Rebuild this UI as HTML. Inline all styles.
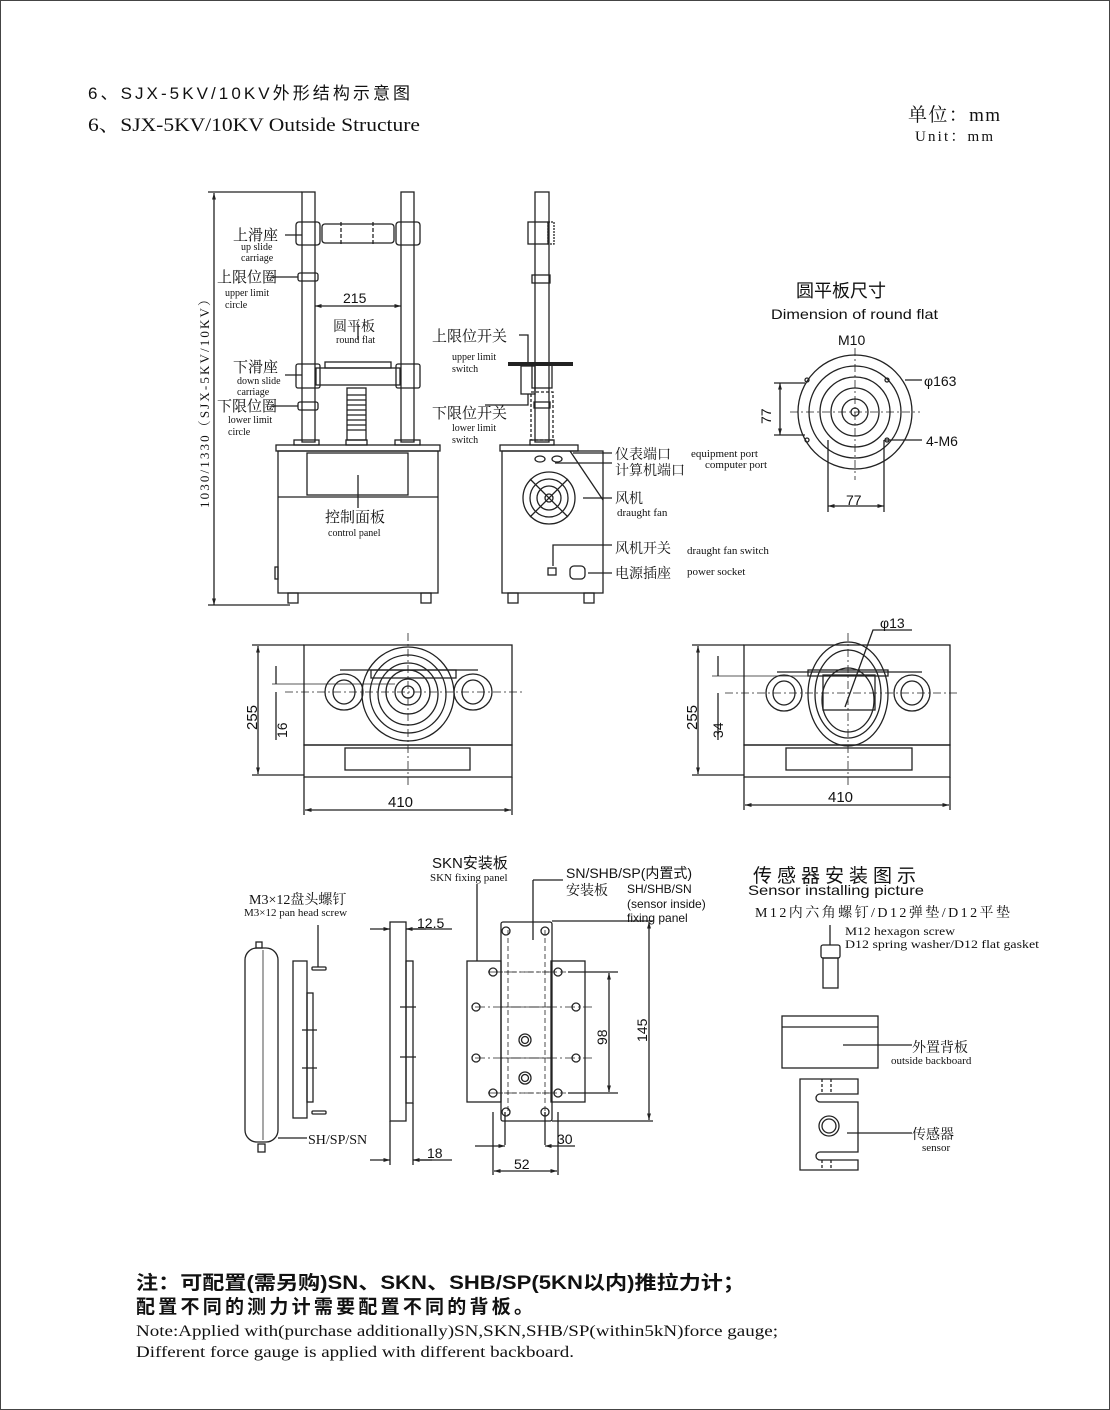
<!DOCTYPE html>
<html><head><meta charset="utf-8"><style>
html,body{margin:0;padding:0;background:#fff}
svg{display:block}
.s{font-family:"Liberation Serif","Noto Serif CJK SC","Noto Sans CJK SC",serif;fill:#111}
.a{font-family:"Liberation Sans","Noto Sans CJK SC",sans-serif;fill:#111}
</style></head><body>
<svg width="1110" height="1410" viewBox="0 0 1110 1410" xmlns="http://www.w3.org/2000/svg">
<defs><marker id="ar" viewBox="0 0 10 10" refX="10" refY="5" markerWidth="7" markerHeight="5" orient="auto-start-reverse"><path d="M0,2 L10,5 L0,8 z" fill="#222"/></marker></defs>
<rect x="0.5" y="0.5" width="1109" height="1409" fill="none" stroke="#444" stroke-width="1"/>
<text x="88" y="99" class="a" font-size="17" textLength="322" lengthAdjust="spacing">6、SJX-5KV/10KV外形结构示意图</text>
<text x="88" y="131" class="s" font-size="19" textLength="332" lengthAdjust="spacingAndGlyphs">6、SJX-5KV/10KV Outside Structure</text>
<text x="908" y="121" class="s" font-size="19" textLength="92" lengthAdjust="spacing">单位：mm</text>
<text x="915" y="141" class="s" font-size="15" textLength="78" lengthAdjust="spacing">Unit：mm</text>

<g fill="none" stroke="#222" stroke-width="1.3">
<line x1="214" y1="193" x2="214" y2="605" marker-start="url(#ar)" marker-end="url(#ar)"/>
<line x1="208" y1="192" x2="302" y2="192"/><line x1="208" y1="605" x2="290" y2="605"/>
<rect x="302" y="192" width="13" height="250"/><rect x="401" y="192" width="13" height="250"/>
<rect x="296" y="222" width="24" height="23" rx="3"/><rect x="396" y="222" width="24" height="23" rx="3"/>
<rect x="322" y="224" width="72" height="19" rx="3"/>
<line x1="341" y1="222" x2="341" y2="245" stroke-dasharray="4 2"/><line x1="373" y1="222" x2="373" y2="245" stroke-dasharray="4 2"/>
<rect x="298" y="273" width="20" height="8" rx="2"/><rect x="298" y="402" width="20" height="8" rx="2"/>
<line x1="315" y1="306" x2="401" y2="306" marker-start="url(#ar)" marker-end="url(#ar)"/>
<rect x="296" y="364" width="24" height="24" rx="2"/><rect x="396" y="364" width="24" height="24" rx="2"/>
<rect x="316" y="368" width="84" height="17"/><rect x="325" y="362" width="66" height="6"/>
<rect x="347" y="388" width="19" height="52"/>
<path d="M347 395h19M347 400h19M347 405h19M347 410h19M347 415h19M347 420h19M347 425h19M347 430h19"/>
<rect x="294" y="440" width="25" height="5"/><rect x="395" y="440" width="25" height="5"/><rect x="346" y="440" width="21" height="5"/>
<rect x="276" y="445" width="164" height="6"/>
<rect x="278" y="451" width="160" height="142"/>
<rect x="307" y="453" width="101" height="42"/>
<line x1="278" y1="497" x2="438" y2="497"/>
<rect x="275" y="567" width="3" height="12"/>
<rect x="288" y="593" width="10" height="10"/><rect x="421" y="593" width="10" height="10"/>
<path d="M285 235H302M272 277H298M285 375H302M272 406H298M358 324V340M358 475V508"/>

<rect x="535" y="192" width="14" height="250"/>
<rect x="528" y="222" width="20" height="22"/><rect x="548" y="222" width="6" height="22" stroke-dasharray="2 1"/>
<rect x="532" y="275" width="18" height="8"/>
<line x1="508" y1="364" x2="573" y2="364" stroke-width="4"/>
<rect x="521" y="366" width="14" height="28"/><rect x="532" y="364" width="20" height="24"/>
<rect x="531" y="392" width="22" height="48" stroke-dasharray="3 2"/>
<rect x="534" y="402" width="16" height="6"/>
<rect x="530" y="440" width="24" height="5"/>
<rect x="500" y="445" width="78" height="6"/>
<rect x="502" y="451" width="101" height="142"/>
<path d="M570 451L603 500"/>
<ellipse cx="540" cy="459" rx="5" ry="3"/><ellipse cx="557" cy="459" rx="5" ry="3"/>
<circle cx="549" cy="498" r="26"/><circle cx="549" cy="498" r="19"/><circle cx="549" cy="498" r="12"/><circle cx="549" cy="498" r="4"/>
<path d="M530 479L568 517M568 479L530 517"/>
<rect x="548" y="568" width="8" height="7"/><rect x="570" y="566" width="15" height="13" rx="4"/>
<rect x="508" y="593" width="10" height="10"/><rect x="584" y="593" width="10" height="10"/>
<path d="M519 335H528V364M485 405H528V394M573 453H612M555 463H612M583 498H612M553 566V545H612M588 573H612"/>

<circle cx="855" cy="412" r="57"/><circle cx="855" cy="412" r="46"/><circle cx="855" cy="412" r="35"/><circle cx="855" cy="412" r="24"/><circle cx="855" cy="412" r="13"/><circle cx="855" cy="412" r="4"/>
<line x1="855" y1="348" x2="855" y2="480" stroke-dasharray="8 3 2 3" stroke-width="0.8"/>
<line x1="790" y1="412" x2="920" y2="412" stroke-dasharray="8 3 2 3" stroke-width="0.8"/>
<circle cx="807" cy="380" r="2"/><circle cx="887" cy="380" r="2"/><circle cx="807" cy="440" r="2"/><circle cx="887" cy="440" r="2"/>
<path d="M905 380H922M885 440H922"/>
<line x1="780" y1="383" x2="780" y2="435" marker-start="url(#ar)" marker-end="url(#ar)"/>
<path d="M774 383H805M774 435H805"/>
<line x1="828" y1="506" x2="884" y2="506" marker-start="url(#ar)" marker-end="url(#ar)"/>
<path d="M828 440V512M884 440V512"/>

<rect x="304" y="645" width="208" height="100"/><rect x="304" y="745" width="208" height="32"/>
<rect x="345" y="748" width="125" height="22"/>
<ellipse cx="408" cy="694" rx="46" ry="47"/><ellipse cx="408" cy="694" rx="38" ry="39"/><ellipse cx="408" cy="694" rx="30" ry="31"/><ellipse cx="408" cy="692" rx="22" ry="22"/><ellipse cx="408" cy="692" rx="13" ry="13"/><ellipse cx="408" cy="692" rx="6" ry="6"/>
<rect x="371" y="670" width="85" height="8"/>
<ellipse cx="344" cy="692" rx="19" ry="18"/><ellipse cx="344" cy="692" rx="11" ry="12"/>
<ellipse cx="473" cy="692" rx="19" ry="18"/><ellipse cx="473" cy="692" rx="11" ry="12"/>
<path d="M340 670H478" />
<line x1="408" y1="633" x2="408" y2="785" stroke-dasharray="8 3 2 3" stroke-width="0.8"/>
<line x1="285" y1="692" x2="525" y2="692" stroke-dasharray="8 3 2 3" stroke-width="0.8"/>
<line x1="272" y1="684" x2="395" y2="684" stroke-width="0.8"/>
<line x1="258" y1="646" x2="258" y2="774" marker-start="url(#ar)" marker-end="url(#ar)"/>
<path d="M252 645H304M252 775H304"/>
<path d="M276 666V684M276 692V740"/>
<line x1="305" y1="810" x2="511" y2="810" marker-start="url(#ar)" marker-end="url(#ar)"/>
<path d="M304 777V815M512 777V815"/>

<rect x="744" y="645" width="206" height="100"/><rect x="744" y="745" width="206" height="32"/>
<rect x="786" y="748" width="126" height="22"/>
<ellipse cx="848" cy="694" rx="40" ry="52"/><ellipse cx="848" cy="694" rx="33" ry="44"/><ellipse cx="848" cy="700" rx="26" ry="32"/>
<rect x="823" y="675" width="52" height="35"/>
<rect x="808" y="670" width="80" height="6"/>
<ellipse cx="784" cy="693" rx="18" ry="18"/><ellipse cx="784" cy="693" rx="11" ry="12"/>
<ellipse cx="912" cy="693" rx="18" ry="18"/><ellipse cx="912" cy="693" rx="11" ry="12"/>
<path d="M777 672H922"/>
<line x1="848" y1="633" x2="848" y2="785" stroke-dasharray="8 3 2 3" stroke-width="0.8"/>
<line x1="725" y1="693" x2="960" y2="693" stroke-dasharray="8 3 2 3" stroke-width="0.8"/>
<line x1="712" y1="676" x2="830" y2="676" stroke-width="0.8"/>
<path d="M845 707L873 630H912"/>
<line x1="698" y1="646" x2="698" y2="774" marker-start="url(#ar)" marker-end="url(#ar)"/>
<path d="M692 645H744M692 775H744"/>
<path d="M718 656V676M718 693V740"/>
<line x1="745" y1="805" x2="949" y2="805" marker-start="url(#ar)" marker-end="url(#ar)"/>
<path d="M744 777V810M950 777V810"/>

<rect x="245" y="948" width="33" height="194" rx="12"/>
<line x1="263" y1="950" x2="263" y2="1140" stroke-width="0.8"/>
<rect x="256" y="942" width="6" height="6"/><rect x="258" y="1144" width="7" height="8"/>
<rect x="293" y="961" width="14" height="157"/><rect x="307" y="993" width="6" height="109"/>
<path d="M302 1030h15M302 1068h15"/>
<rect x="312" y="967" width="14" height="3" rx="1"/><rect x="312" y="1111" width="14" height="3" rx="1"/>
<path d="M318 925V967M278 1138H307"/>
<rect x="390" y="922" width="16" height="199"/><rect x="406" y="961" width="7" height="142"/>
<path d="M400 1007h16M400 1057h16"/>
<line x1="370" y1="929" x2="390" y2="929" marker-end="url(#ar)"/><line x1="426" y1="929" x2="406" y2="929" marker-end="url(#ar)"/><path d="M406 929H452"/>
<line x1="370" y1="1160" x2="390" y2="1160" marker-end="url(#ar)"/><line x1="432" y1="1160" x2="413" y2="1160" marker-end="url(#ar)"/><path d="M413 1160H452M390 1121V1165M413 1103V1165"/>

<rect x="467" y="961" width="34" height="141"/><rect x="551" y="961" width="34" height="141"/>
<rect x="501" y="922" width="51" height="199" rx="2"/>
<path d="M508 930V1115M545 930V1115M496 972H555M496 1093H555" stroke-dasharray="5 3" stroke-width="0.8"/>
<path d="M501 1007H552M501 1058H552" stroke-width="0.8"/>
<path d="M488 972H566M488 1093H566M475 1007H592M475 1058H592" stroke-dasharray="10 3 2 3" stroke-width="0.7"/>
<circle cx="506" cy="931" r="4"/><circle cx="545" cy="931" r="4"/><circle cx="506" cy="1112" r="4"/><circle cx="545" cy="1112" r="4"/>
<circle cx="493" cy="972" r="4"/><circle cx="558" cy="972" r="4"/><circle cx="493" cy="1093" r="4"/><circle cx="558" cy="1093" r="4"/>
<circle cx="476" cy="1007" r="4"/><circle cx="576" cy="1007" r="4"/><circle cx="476" cy="1058" r="4"/><circle cx="576" cy="1058" r="4"/>
<circle cx="525" cy="1040" r="6"/><circle cx="525" cy="1040" r="3.5"/><circle cx="525" cy="1078" r="6"/><circle cx="525" cy="1078" r="3.5"/>
<path d="M477 884V961M533 880H563M533 880V940"/>
<path d="M552 921H653M568 972H618M568 1093H618M552 1121H653"/>
<line x1="609" y1="973" x2="609" y2="1092" marker-start="url(#ar)" marker-end="url(#ar)"/>
<line x1="649" y1="922" x2="649" y2="1120" marker-start="url(#ar)" marker-end="url(#ar)"/>
<path d="M493 1112V1175M558 1112V1175M505 1112V1145M545 1112V1145"/>
<line x1="475" y1="1146" x2="505" y2="1146" marker-end="url(#ar)"/><line x1="575" y1="1146" x2="545" y2="1146" marker-end="url(#ar)"/>
<line x1="494" y1="1171" x2="557" y2="1171" marker-start="url(#ar)" marker-end="url(#ar)"/>

<rect x="821" y="945" width="19" height="13" rx="2"/><rect x="823" y="958" width="15" height="30"/>
<path d="M830 925V945"/>
<rect x="782" y="1016" width="96" height="52"/><line x1="782" y1="1027" x2="878" y2="1027"/>
<path d="M843 1045H912"/>
<path d="M800 1079H858V1094H820A4 4 0 0 0 820 1102H858V1152H820A4 4 0 0 0 820 1160H858V1170H800Z"/>
<circle cx="829" cy="1126" r="10"/><circle cx="829" cy="1126" r="7"/>
<path d="M822 1079v15M831 1079v15M822 1160v10M831 1160v10" stroke-dasharray="3 2"/>
<path d="M847 1133H912"/>
</g>

<text x="233" y="240" class="s" font-size="15">上滑座</text>
<text x="241" y="250" class="s" font-size="10">up slide</text>
<text x="241" y="261" class="s" font-size="10">carriage</text>
<text x="217" y="282" class="s" font-size="15">上限位圈</text>
<text x="225" y="296" class="s" font-size="10">upper limit</text>
<text x="225" y="308" class="s" font-size="10">circle</text>
<text x="343" y="303" class="a" font-size="14">215</text>
<text x="333" y="331" class="s" font-size="14">圆平板</text>
<text x="336" y="343" class="s" font-size="10">round flat</text>
<text x="233" y="372" class="s" font-size="15">下滑座</text>
<text x="237" y="384" class="s" font-size="10">down slide</text>
<text x="237" y="395" class="s" font-size="10">carriage</text>
<text x="217" y="411" class="s" font-size="15">下限位圈</text>
<text x="228" y="423" class="s" font-size="10">lower limit</text>
<text x="228" y="435" class="s" font-size="10">circle</text>
<text x="325" y="522" class="s" font-size="15">控制面板</text>
<text x="328" y="536" class="s" font-size="10">control panel</text>
<text transform="translate(209,508) rotate(-90)" class="s" font-size="13" textLength="215" lengthAdjust="spacing">1030/1330（SJX-5KV/10KV）</text>

<text x="432" y="341" class="s" font-size="15">上限位开关</text>
<text x="452" y="360" class="s" font-size="10">upper limit</text>
<text x="452" y="372" class="s" font-size="10">switch</text>
<text x="432" y="418" class="s" font-size="15">下限位开关</text>
<text x="452" y="431" class="s" font-size="10">lower limit</text>
<text x="452" y="443" class="s" font-size="10">switch</text>
<text x="615" y="459" class="s" font-size="14">仪表端口</text>
<text x="691" y="457" class="s" font-size="11">equipment port</text>
<text x="615" y="475" class="s" font-size="14">计算机端口</text>
<text x="705" y="468" class="s" font-size="11">computer port</text>
<text x="615" y="503" class="s" font-size="14">风机</text>
<text x="617" y="516" class="s" font-size="11">draught fan</text>
<text x="615" y="553" class="s" font-size="14">风机开关</text>
<text x="687" y="554" class="s" font-size="11">draught fan switch</text>
<text x="615" y="578" class="s" font-size="14">电源插座</text>
<text x="687" y="575" class="s" font-size="11">power socket</text>

<text x="796" y="297" class="a" font-size="18">圆平板尺寸</text>
<text x="771" y="319" class="a" font-size="14" textLength="167" lengthAdjust="spacingAndGlyphs">Dimension of round flat</text>
<text x="838" y="345" class="a" font-size="14">M10</text>
<text x="924" y="386" class="a" font-size="14">φ163</text>
<text x="926" y="446" class="a" font-size="14">4-M6</text>
<text transform="translate(771,424) rotate(-90)" class="a" font-size="14">77</text>
<text x="846" y="505" class="a" font-size="14">77</text>

<text transform="translate(257,730) rotate(-90)" class="a" font-size="15">255</text>
<text transform="translate(287,738) rotate(-90)" class="a" font-size="14">16</text>
<text x="388" y="807" class="a" font-size="15">410</text>
<text transform="translate(697,730) rotate(-90)" class="a" font-size="15">255</text>
<text transform="translate(723,738) rotate(-90)" class="a" font-size="14">34</text>
<text x="828" y="802" class="a" font-size="15">410</text>
<text x="880" y="628" class="a" font-size="14">φ13</text>

<text x="432" y="868" class="a" font-size="15">SKN安装板</text>
<text x="430" y="881" class="s" font-size="11">SKN fixing panel</text>
<text x="566" y="878" class="a" font-size="14">SN/SHB/SP(内置式)</text>
<text x="566" y="895" class="s" font-size="14">安装板</text>
<text x="627" y="893" class="a" font-size="12">SH/SHB/SN</text>
<text x="627" y="908" class="a" font-size="12">(sensor inside)</text>
<text x="627" y="922" class="a" font-size="12">fixing panel</text>
<text x="249" y="904" class="s" font-size="14">M3×12盘头螺钉</text>
<text x="244" y="916" class="s" font-size="11">M3×12 pan head screw</text>
<text x="417" y="928" class="a" font-size="14">12.5</text>
<text x="308" y="1144" class="s" font-size="14">SH/SP/SN</text>
<text x="427" y="1158" class="a" font-size="14">18</text>
<text x="557" y="1144" class="a" font-size="14">30</text>
<text x="514" y="1169" class="a" font-size="14">52</text>
<text transform="translate(607,1045) rotate(-90)" class="a" font-size="14">98</text>
<text transform="translate(647,1042) rotate(-90)" class="a" font-size="14">145</text>

<text x="753" y="882" class="a" font-size="19" textLength="163" lengthAdjust="spacing">传感器安装图示</text>
<text x="748" y="895" class="a" font-size="14" textLength="176" lengthAdjust="spacingAndGlyphs">Sensor installing picture</text>
<text x="755" y="917" class="s" font-size="14" textLength="255" lengthAdjust="spacing">M12内六角螺钉/D12弹垫/D12平垫</text>
<text x="845" y="935" class="s" font-size="12" textLength="110" lengthAdjust="spacingAndGlyphs">M12 hexagon screw</text>
<text x="845" y="948" class="s" font-size="12" textLength="194" lengthAdjust="spacingAndGlyphs">D12 spring washer/D12 flat gasket</text>
<text x="912" y="1052" class="s" font-size="14">外置背板</text>
<text x="891" y="1064" class="s" font-size="11">outside backboard</text>
<text x="912" y="1139" class="s" font-size="14">传感器</text>
<text x="922" y="1151" class="s" font-size="11">sensor</text>

<text x="136" y="1289" class="a" font-size="19" font-weight="bold" textLength="609" lengthAdjust="spacingAndGlyphs">注：可配置(需另购)SN、SKN、SHB/SP(5KN以内)推拉力计；</text>
<text x="136" y="1313" class="a" font-size="19" font-weight="bold" textLength="397" lengthAdjust="spacing">配置不同的测力计需要配置不同的背板。</text>
<text x="136" y="1336" class="s" font-size="16" textLength="642" lengthAdjust="spacingAndGlyphs">Note:Applied with(purchase additionally)SN,SKN,SHB/SP(within5kN)force gauge;</text>
<text x="136" y="1357" class="s" font-size="16" textLength="438" lengthAdjust="spacingAndGlyphs">Different force gauge is applied with different backboard.</text>
</svg>
</body></html>
